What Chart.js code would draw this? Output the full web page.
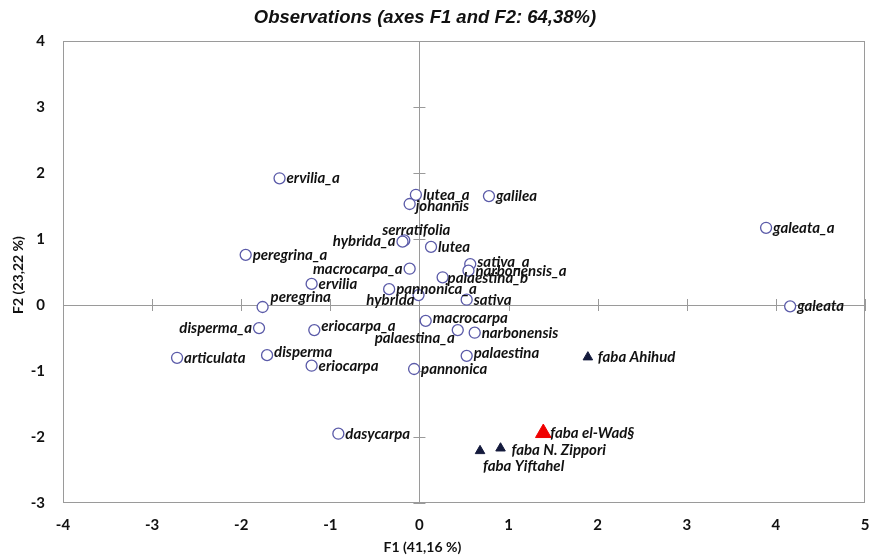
<!DOCTYPE html>
<html>
<head>
<meta charset="UTF-8">
<title>Observations (axes F1 and F2: 64,38%)</title>
<style>
  html, body { margin: 0; padding: 0; background: #fff; }
  #wrap { width: 870px; height: 558px; }
</style>
</head>
<body>
<div id="wrap"><canvas id="chart" width="870" height="558"></canvas></div>
<script src="https://cdn.jsdelivr.net/npm/chart.js"></script>
<script>
  // observations (circles)
  const obsNames = ['ervilia_a', 'lutea_a', 'johannis', 'galilea', 'galeata_a', 'serratifolia', 'hybrida_a',
    'lutea', 'peregrina_a', 'sativa_a', 'narbonensis_a', 'macrocarpa_a', 'palaestina_b', 'ervilia',
    'pannonica_a', 'hybrida', 'peregrina', 'sativa', 'galeata', 'macrocarpa', 'palaestina_a',
    'narbonensis', 'disperma_a', 'eriocarpa_a', 'articulata', 'disperma', 'eriocarpa', 'palaestina',
    'pannonica', 'dasycarpa'];
  const obsF1 = [-1.57, -0.04, -0.11, 0.78, 3.89, -0.17, -0.19, 0.13, -1.95, 0.57, 0.55, -0.11, 0.26, -1.21,
    -0.34, -0.01, -1.76, 0.53, 4.16, 0.07, 0.43, 0.62, -1.80, -1.18, -2.72, -1.71, -1.21, 0.53, -0.06, -0.91];
  const obsF2 = [1.92, 1.67, 1.53, 1.65, 1.17, 0.98, 0.96, 0.88, 0.76, 0.62, 0.52, 0.55, 0.42, 0.32,
    0.24, 0.15, -0.03, 0.08, -0.02, -0.24, -0.38, -0.42, -0.35, -0.38, -0.80, -0.76, -0.92, -0.77, -0.97, -1.95];

  // faba lines (triangles)
  const fabaNames = ['faba Ahihud', 'faba N. Zippori', 'faba Yiftahel'];
  const fabaF1 = [1.89, 0.91, 0.68];
  const fabaF2 = [-0.79, -2.17, -2.21];

  // highlighted line
  const wadNames = ['faba el-Wad§'];
  const wadF1 = [1.39];
  const wadF2 = [-1.94];

  const xTicks = [-4, -3, -2, -1, 0, 1, 2, 3, 4, 5];
  const yTicks = [-3, -2, -1, 0, 1, 2, 3, 4];

  const chartTitle = 'Observations (axes F1 and F2: 64,38%)';
  const xTitle = 'F1 (41,16 %)';
  const yTitle = 'F2 (23,22 %)';

  function pts(a, b) { return a.map((v, i) => ({ x: v, y: b[i] })); }

  // where each label sits next to its point: [dx, dy, align]
  const placement = {
    'serratifolia': [12, -10, 'center'],
    'hybrida_a': [-7, 0, 'right'],
    'macrocarpa_a': [-7, 0, 'right'],
    'hybrida': [-4, 5, 'right'],
    'palaestina_a': [-3, 8, 'right'],
    'disperma_a': [-7, 0, 'right'],
    'peregrina': [8, -10, 'left'],
    'johannis': [6, 2, 'left'],
    'sativa_a': [7, -2, 'left'],
    'palaestina_b': [5, 1, 'left'],
    'macrocarpa': [7, -3, 'left'],
    'eriocarpa_a': [7, -4, 'left'],
    'disperma': [7, -3, 'left'],
    'palaestina': [7, -3, 'left'],
    'faba Yiftahel': [3, 15, 'left'],
    'faba N. Zippori': [11, 2, 'left'],
    'faba el-Wad§': [7, 0, 'left'],
    'faba Ahihud': [10, 0, 'left']
  };

  const labelPlugin = {
    id: 'pointLabels',
    afterDatasetsDraw(chart) {
      const ctx = chart.ctx;
      ctx.save();
      ctx.font = 'italic bold 15px Lato, "Open Sans", sans-serif';
      ctx.fillStyle = '#111';
      ctx.textBaseline = 'middle';
      chart.data.datasets.forEach((ds, di) => {
        const meta = chart.getDatasetMeta(di);
        meta.data.forEach((el, i) => {
          const name = ds.names[i];
          const p = placement[name] || [7, 0, 'left'];
          ctx.textAlign = p[2];
          ctx.fillText(name, el.x + p[0], el.y + p[1]);
        });
      });
      ctx.restore();
    }
  };

  // box, centre cross with its small ticks, and the titles
  const framePlugin = {
    id: 'frame',
    beforeDatasetsDraw(chart) {
      const ctx = chart.ctx;
      const a = chart.chartArea;
      const xs = chart.scales.x, ys = chart.scales.y;
      const x0 = xs.getPixelForValue(0), y0 = ys.getPixelForValue(0);
      ctx.save();
      ctx.strokeStyle = '#9a9a9a';
      ctx.lineWidth = 1;
      ctx.strokeRect(a.left + 0.5, a.top + 0.5, a.right - a.left - 1, a.bottom - a.top - 1);
      ctx.beginPath();
      ctx.moveTo(Math.round(x0) + 0.5, a.top);
      ctx.lineTo(Math.round(x0) + 0.5, a.bottom);
      ctx.moveTo(a.left, Math.round(y0) + 0.5);
      ctx.lineTo(a.right, Math.round(y0) + 0.5);
      xTicks.forEach(v => {
        const px = Math.round(xs.getPixelForValue(v)) + 0.5;
        ctx.moveTo(px, y0 - 6);
        ctx.lineTo(px, y0 + 6);
      });
      yTicks.forEach(v => {
        const py = Math.round(ys.getPixelForValue(v)) + 0.5;
        ctx.moveTo(x0 - 6, py);
        ctx.lineTo(x0 + 6, py);
      });
      ctx.stroke();

      ctx.fillStyle = '#111';
      ctx.textAlign = 'center';
      ctx.textBaseline = 'middle';
      ctx.font = 'italic bold 18.5px "Liberation Sans", Arial, sans-serif';
      ctx.fillText(chartTitle, 425, 18);
      ctx.font = 'bold 14px Lato, "Open Sans", sans-serif';
      ctx.fillText(xTitle, x0 + 3, 547);
      ctx.translate(18, (a.top + a.bottom) / 2 + 3);
      ctx.rotate(-Math.PI / 2);
      ctx.fillText(yTitle, 0, 0);
      ctx.restore();
    }
  };

  new Chart(document.getElementById('chart'), {
    type: 'scatter',
    data: {
      datasets: [
        {
          names: obsNames,
          data: pts(obsF1, obsF2),
          pointStyle: 'circle',
          pointRadius: 5.5,
          pointBorderWidth: 1.3,
          borderColor: '#5a5aa8',
          backgroundColor: '#ffffff'
        },
        {
          names: fabaNames,
          data: pts(fabaF1, fabaF2),
          pointStyle: 'triangle',
          pointRadius: 5.5,
          borderWidth: 1,
          borderColor: '#141a3c',
          backgroundColor: '#141a3c'
        },
        {
          names: wadNames,
          data: pts(wadF1, wadF2),
          pointStyle: 'triangle',
          pointRadius: 9,
          borderWidth: 1,
          borderColor: '#f00000',
          backgroundColor: '#f00000'
        }
      ]
    },
    options: {
      responsive: false,
      animation: false,
      layout: { autoPadding: false, padding: { top: 41, right: 5, left: 0, bottom: 0 } },
      plugins: {
        legend: { display: false },
        tooltip: { enabled: false },
        title: { display: false }
      },
      scales: {
        x: {
          type: 'linear',
          min: -4, max: 5,
          afterBuildTicks: s => { s.ticks = xTicks.map(v => ({ value: v })); },
          afterFit: s => { s.height = 55; s.paddingLeft = 0; s.paddingRight = 0; },
          grid: { display: false, drawTicks: false },
          border: { display: false },
          ticks: {
            padding: 13,
            color: '#111',
            font: { family: 'Lato, "Open Sans", sans-serif', size: 15, weight: 'bold' }
          }
        },
        y: {
          type: 'linear',
          min: -3, max: 4,
          afterBuildTicks: s => { s.ticks = yTicks.map(v => ({ value: v })); },
          afterFit: s => { s.width = 63; s.paddingTop = 0; s.paddingBottom = 0; },
          grid: { display: false, drawTicks: false },
          border: { display: false },
          ticks: {
            padding: 18,
            color: '#111',
            font: { family: 'Lato, "Open Sans", sans-serif', size: 15, weight: 'bold' }
          }
        }
      }
    },
    plugins: [framePlugin, labelPlugin]
  });
</script>
</body>
</html>
